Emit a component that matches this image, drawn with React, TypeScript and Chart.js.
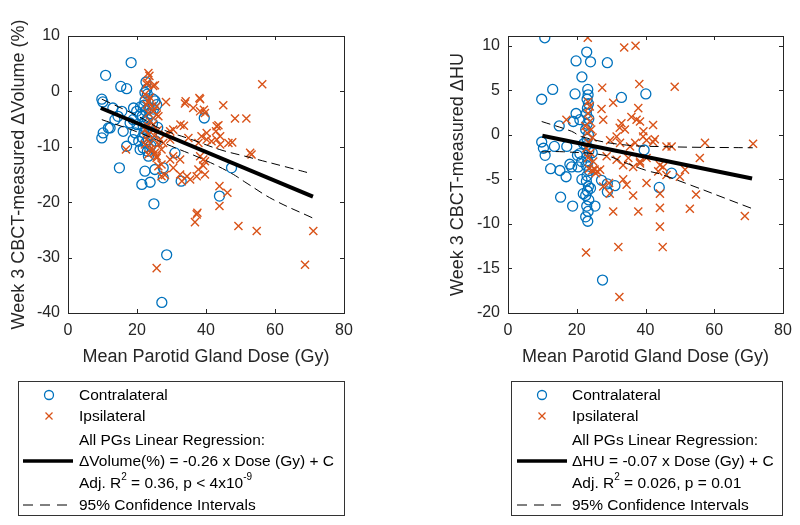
import React, { useEffect, useRef } from "react";
import { Chart, registerables } from "chart.js";

Chart.register(...registerables);

// ---------- tick labels ----------
const X_TICKS = [0, 20, 40, 60, 80];
const VOL_Y_TICKS = [-40, -30, -20, -10, 0, 10];
const HU_Y_TICKS = [-20, -15, -10, -5, 0, 5, 10];

// ---------- left panel: ΔVolume (%) ----------
const VOL_CONTRA_DOSE = [18.3, 10.9, 15.3, 17.0, 9.8, 10.1, 13.0, 15.6, 19.9, 20.9, 18.9, 18.0, 13.6, 11.7, 10.2, 9.8, 16.0, 17.0, 18.9, 20.9, 23.3, 31.0, 14.9, 22.3, 25.2, 27.6, 27.6, 23.8, 21.4, 32.8, 24.9, 28.6, 27.2, 39.5, 47.4, 43.9,
  22.6, 22.8, 23.0, 22.3, 24.7, 25.7, 22.3, 25.2, 22.0, 23.5, 22.5, 24.0, 21.5, 23.0, 22.2, 24.5, 21.8, 23.5, 22.8, 22.0, 24.2, 21.5, 23.2, 22.5, 24.0, 21.8, 23.0, 20.5, 19.5, 25.5, 26.0, 20.0, 24.8, 21.0, 14.5, 12.2, 19.0];
const VOL_CONTRA_DELTA = [5.2, 2.9, 0.9, 0.5, -1.4, -1.9, -3.0, -3.6, -3.6, -4.2, -5.1, -5.7, -5.1, -6.6, -7.5, -8.4, -7.2, -9.9, -8.7, -10.5, -11.7, -11.1, -13.8, -14.4, -14.1, -13.8, -15.6, -16.4, -16.8, -16.2, -20.3, -29.5, -38.1, -4.8, -13.8, -18.9,
  1.7, 0.4, -0.5, -0.2, -1.4, -2.4, -1.7, -1.7, -2.5, -3.0, -3.5, -4.0, -4.5, -5.0, -5.5, -5.8, -6.3, -6.5, -7.0, -7.5, -7.8, -8.3, -8.7, -9.3, -9.8, -10.2, -10.8, -9.0, -7.5, -9.0, -6.5, -6.0, -3.2, -2.8, -4.5, -6.6, -3.0];

const VOL_IPSI_DOSE = [23.3, 23.6, 23.0, 24.7, 22.8, 25.2, 56.3, 28.4, 34.1, 33.9, 38.1, 38.3, 36.3, 38.3, 39.7, 39.4, 45.0, 48.4, 51.7, 32.6, 33.6, 43.1, 30.5, 29.6, 28.1, 26.7, 27.6, 29.6, 34.9, 38.7, 40.2, 37.8, 42.9, 44.1, 43.1, 41.6, 44.1, 46.5, 47.6, 43.6, 40.2, 52.8, 53.2, 16.8, 29.6, 30.5, 32.5, 28.1, 27.1, 32.5, 34.5, 33.0, 35.4, 37.3, 37.8, 39.7, 30.5, 38.3, 39.7, 39.2, 39.2, 43.9, 43.9, 46.2, 37.5, 37.3, 36.8, 49.4, 54.7, 71.1, 68.7, 25.7,
  22.3, 23.8, 23.3, 22.8, 24.3, 25.7, 23.3, 24.7, 25.7, 26.2, 23.8, 23.3, 22.3, 23.3, 22.8, 23.8, 22.3, 23.8, 25.2, 23.3, 25.7, 26.2, 27.1, 24.7, 25.7, 26.2, 27.1, 24.7, 26.0, 25.0];
const VOL_IPSI_DELTA = [3.3, 2.8, 1.6, 1.0, 1.3, 1.1, 1.3, -1.9, -1.8, -2.2, -1.2, -1.4, -3.0, -3.6, -3.9, -3.3, -2.5, -4.9, -4.9, -6.0, -6.2, -6.3, -6.9, -7.2, -7.8, -8.7, -9.3, -8.7, -8.4, -8.1, -8.7, -9.3, -7.2, -8.1, -8.7, -9.0, -9.6, -9.3, -9.2, -6.1, -7.5, -11.1, -11.4, -10.5, -12.3, -13.8, -12.3, -15.1, -13.2, -15.0, -15.3, -16.2, -15.9, -15.3, -14.1, -15.0, -11.7, -11.7, -12.6, -12.3, -13.4, -17.1, -20.7, -18.3, -21.9, -22.2, -23.6, -24.3, -25.2, -25.2, -31.3, -31.9,
  -0.5, -1.1, -1.8, -2.4, -2.7, -2.7, -3.9, -3.6, -4.2, -4.5, -5.4, -6.3, -6.9, -7.8, -8.7, -9.3, -9.6, -10.5, -11.1, -11.4, -12.0, -9.5, -10.5, -10.5, -11.7, -13.5, -15.3, -6.0, -7.0, -8.0];

const VOL_FIT_DOSE = [9.5, 71.0];
const VOL_FIT = [-3.0, -19.0];
const VOL_CI_UP_DOSE = [9.8, 20.4, 26.7, 35.9, 44.0, 51.3, 66.7, 69.7];
const VOL_CI_UP = [-1.4, -4.5, -6.7, -8.7, -10.5, -11.7, -14.2, -14.7];
const VOL_CI_LO_DOSE = [9.8, 20.0, 30.0, 39.7, 47.4, 51.9, 59.4, 71.1];
const VOL_CI_LO = [-5.1, -7.3, -9.9, -12.4, -14.8, -16.6, -19.5, -22.9];

// ---------- right panel: ΔHU ----------
const HU_CONTRA_DOSE = [10.7, 9.8, 13.0, 19.5, 19.8, 22.9, 24.0, 28.9, 21.5, 33.0, 40.1,
  23.2, 23.3, 23.0, 23.4, 23.1, 22.8, 23.5, 23.0, 22.6, 23.4, 23.0, 22.8, 23.5, 22.9, 23.3, 22.7, 23.6, 23.0, 22.8, 23.4, 23.1, 22.6, 23.5, 22.9, 23.3, 22.6, 23.2,
  19.8, 19.0, 14.9, 20.9, 9.8, 10.3, 10.8, 13.5, 17.1, 20.9, 21.4, 20.4, 12.4, 15.1, 16.9, 18.5, 18.0, 15.3, 18.8, 21.9, 25.3, 28.9, 28.9, 31.1, 27.2, 44.0, 39.6, 47.6, 27.5, 20.2, 22.0, 24.5, 24.0, 21.5];
const HU_CONTRA_DELTA = [10.9, 4.0, 5.1, 4.6, 8.3, 9.3, 8.2, 8.1, 6.5, 4.2, 4.6,
  5.1, 4.5, 4.0, 3.5, 3.0, 2.4, 1.8, 1.2, 0.6, 0.0, -0.5, -1.2, -1.8, -2.5, -3.0, -3.4, -4.0, -4.6, -5.2, -5.8, -6.3, -6.8, -7.3, -8.0, -8.6, -9.2, -9.7,
  2.4, 1.5, 1.0, 1.7, -0.8, -1.5, -2.3, -1.3, -1.3, -2.1, -3.0, -3.6, -3.8, -4.0, -4.7, -3.6, -3.3, -7.0, -8.0, -6.6, -8.0, -5.5, -6.4, -5.7, -5.1, -5.9, -1.7, -4.3, -16.3, -2.3, -1.0, -2.0, -6.0, -5.0];

const HU_IPSI_DOSE = [23.2, 33.8, 37.1, 27.4, 38.2, 48.5, 30.6, 23.3, 23.8, 27.2, 37.9, 17.0, 35.9, 37.4, 38.4, 42.2, 33.0, 34.0, 32.5, 27.7,
  23.3, 23.8, 22.5, 24.2, 23.0, 24.6, 23.5, 22.8, 24.0, 23.3, 24.8, 23.5, 24.5, 25.2, 26.0, 26.8, 25.5,
  29.7, 31.6, 32.6, 35.5, 37.0, 39.3, 40.3, 42.2, 46.1, 47.6, 39.4, 42.7,
  28.7, 31.6, 33.5, 36.4, 38.4, 40.3, 43.7, 45.1, 46.1, 33.5, 34.5, 27.7, 29.6, 36.4, 40.3, 44.2, 30.6, 37.9, 44.2, 44.2, 32.1, 45.0, 22.7, 32.4, 50.0, 51.5, 55.8, 57.3, 71.3, 54.7, 52.9, 68.9, 29.4, 44.2, 35.0, 38.4];
const HU_IPSI_DELTA = [10.9, 9.8, 10.0, 5.3, 5.7, 5.4, 3.6, 3.7, 3.2, 2.9, 3.0, 1.7, 2.0, 1.7, 1.5, 1.1, 1.3, 0.6, 0.8, 1.7,
  2.4, 1.5, 1.0, 0.6, 0.2, -0.3, -0.9, -1.5, -2.0, -2.6, -3.0, -3.8, -4.0, -3.9, -4.1, -3.9, -4.3,
  -0.6, -0.2, -0.9, -1.3, -0.9, -0.2, -0.6, -0.8, -1.3, -1.3, 0.4, -0.5,
  -2.4, -2.8, -3.4, -3.6, -3.2, -2.6, -4.1, -3.6, -4.5, -5.0, -5.6, -5.8, -6.6, -6.8, -5.4, -6.6, -8.6, -8.6, -8.2, -10.3, -12.6, -12.6, -13.2, -18.2, -4.7, -3.9, -2.6, -0.9, -1.0, -6.7, -8.3, -9.1, -5.4, -3.4, -2.6, -3.0];

const HU_FIT_DOSE = [10.0, 71.0];
const HU_FIT = [-0.1, -4.9];
const HU_CI_UP_DOSE = [9.8, 18.5, 21.4, 32.6, 46.1, 71.2];
const HU_CI_UP = [1.5, 0.4, -0.2, -1.07, -1.33, -1.45];
const HU_CI_LO_DOSE = [9.8, 16.1, 28.2, 34.5, 40.3, 45.1, 71.2];
const HU_CI_LO = [-1.9, -1.9, -2.3, -3.2, -4.0, -4.5, -8.3];

// ---------- styles ----------
const FONT = '"Liberation Sans", Arial, Helvetica, sans-serif';
const AXIS_COLOR = "#262626";
const BLUE = "#0072BD";
const ORANGE = "#D95319";

const pts = (xs: number[], ys: number[]) => xs.map((x, i) => ({ x, y: ys[i] }));

const boxPlugin = {
  id: "matlabBox",
  afterDraw(chart: any) {
    const { ctx, chartArea: a, scales } = chart;
    const L = Math.round(a.left), R = Math.round(a.right), T = Math.round(a.top), B = Math.round(a.bottom);
    ctx.save();
    ctx.strokeStyle = AXIS_COLOR;
    ctx.lineWidth = 1;
    ctx.strokeRect(L + 0.5, T + 0.5, R - L, B - T);
    const tl = 4;
    ctx.beginPath();
    for (const t of scales.x.ticks) {
      const px = Math.round(scales.x.getPixelForValue(t.value)) + 0.5;
      ctx.moveTo(px, B); ctx.lineTo(px, B - tl);
      ctx.moveTo(px, T); ctx.lineTo(px, T + tl);
    }
    for (const t of scales.y.ticks) {
      const py = Math.round(scales.y.getPixelForValue(t.value)) + 0.5;
      ctx.moveTo(L, py); ctx.lineTo(L + tl, py);
      ctx.moveTo(R, py); ctx.lineTo(R - tl, py);
    }
    ctx.stroke();
    ctx.restore();
  },
};

type PanelProps = {
  left: number;
  width: number;
  height: number;
  yWidth: number;
  padRight: number;
  titlePad: number;
  yMin: number;
  yMax: number;
  yTicks: number[];
  yTitle: string;
  contra: { x: number; y: number }[];
  ipsi: { x: number; y: number }[];
  fit: { x: number; y: number }[];
  ciUp: { x: number; y: number }[];
  ciLo: { x: number; y: number }[];
};

function Panel(p: PanelProps) {
  const ref = useRef<HTMLCanvasElement>(null);
  useEffect(() => {
    if (!ref.current) return;
    const line = (data: any[], width: number, dash: number[]) => ({
      data,
      showLine: true,
      borderColor: "#000",
      borderWidth: width,
      borderDash: dash,
      pointRadius: 0,
      tension: dash.length ? 0.4 : 0,
      fill: false,
    });
    const chart = new Chart(ref.current, {
      type: "scatter",
      data: {
        datasets: [
          line(p.fit, 4, []) as any,
          line(p.ciUp, 1, [9, 5]) as any,
          line(p.ciLo, 1, [9, 5]) as any,
          {
            data: p.ipsi,
            pointStyle: "crossRot",
            pointRadius: 5.7,
            borderColor: ORANGE,
            backgroundColor: ORANGE,
            borderWidth: 1.4,
          },
          {
            data: p.contra,
            pointStyle: "circle",
            pointRadius: 5,
            borderColor: BLUE,
            backgroundColor: "rgba(0,0,0,0)",
            borderWidth: 1.3,
          },
        ],
      },
      options: {
        animation: false,
        responsive: false,
        devicePixelRatio: 1,
        events: [],
        layout: { padding: { top: 36, right: p.padRight, left: 0, bottom: 0 } },
        plugins: { legend: { display: false }, tooltip: { enabled: false } },
        scales: {
          x: {
            type: "linear",
            min: 0,
            max: 80,
            afterBuildTicks: (s: any) => {
              s.ticks = X_TICKS.map((v) => ({ value: v }));
            },
            afterFit: (s: any) => {
              s.height = p.height - 313;
            },
            grid: { display: false, drawTicks: false },
            border: { display: false },
            ticks: { color: AXIS_COLOR, font: { family: FONT, size: 16 }, padding: 8, maxRotation: 0 },
            title: {
              display: true,
              text: "Mean Parotid Gland Dose (Gy)",
              color: AXIS_COLOR,
              font: { family: FONT, size: 18 },
              padding: { top: 0, bottom: 12 },
            },
          },
          y: {
            type: "linear",
            min: p.yMin,
            max: p.yMax,
            afterBuildTicks: (s: any) => {
              s.ticks = p.yTicks.map((v) => ({ value: v }));
            },
            afterFit: (s: any) => {
              s.width = p.yWidth;
            },
            grid: { display: false, drawTicks: false },
            border: { display: false },
            ticks: { color: AXIS_COLOR, font: { family: FONT, size: 16 }, padding: 8 },
            title: {
              display: true,
              text: p.yTitle,
              color: AXIS_COLOR,
              font: { family: FONT, size: 18 },
              padding: { top: p.titlePad, bottom: 0 },
            },
          },
        },
      },
      plugins: [boxPlugin],
    } as any);
    return () => chart.destroy();
  }, []);
  return (
    <canvas
      ref={ref}
      width={p.width}
      height={p.height}
      style={{ position: "absolute", left: p.left, top: 0, width: p.width, height: p.height }}
    />
  );
}

type LegendProps = {
  left: number;
  width: number;
  markerX: number;
  textX: number;
  lineX1: number;
  lineX2: number;
  eq: React.ReactNode;
  stats: React.ReactNode;
};

const ROW_Y = [395, 416, 440, 461, 483, 505];

function Legend(p: LegendProps) {
  const top = 381;
  const txt = (y: number, content: React.ReactNode) => (
    <div
      style={{
        position: "absolute",
        left: p.textX,
        top: y - 9,
        lineHeight: "18px",
        fontSize: "15.5px",
        fontFamily: FONT,
        color: "#000",
        whiteSpace: "nowrap",
      }}
    >
      {content}
    </div>
  );
  return (
    <>
      <div
        style={{
          position: "absolute",
          left: p.left,
          top,
          width: p.width,
          height: 135,
          border: "1px solid #333",
          boxSizing: "border-box",
          background: "#fff",
        }}
      />
      <svg
        width={800}
        height={525}
        style={{ position: "absolute", left: 0, top: 0, pointerEvents: "none" }}
      >
        <circle cx={p.markerX} cy={ROW_Y[0]} r={4.5} fill="none" stroke={BLUE} strokeWidth={1.3} />
        <line x1={p.markerX - 3.5} y1={ROW_Y[1] - 3.5} x2={p.markerX + 3.5} y2={ROW_Y[1] + 3.5} stroke={ORANGE} strokeWidth={1.3} />
        <line x1={p.markerX - 3.5} y1={ROW_Y[1] + 3.5} x2={p.markerX + 3.5} y2={ROW_Y[1] - 3.5} stroke={ORANGE} strokeWidth={1.3} />
        <line x1={p.lineX1} y1={ROW_Y[3]} x2={p.lineX2} y2={ROW_Y[3]} stroke="#000" strokeWidth={3.5} />
        <line x1={p.lineX1} y1={ROW_Y[5]} x2={p.lineX2} y2={ROW_Y[5]} stroke="#000" strokeWidth={1} strokeDasharray="10 7" />
      </svg>
      {txt(ROW_Y[0], "Contralateral")}
      {txt(ROW_Y[1], "Ipsilateral")}
      {txt(ROW_Y[2], "All PGs Linear Regression:")}
      {txt(ROW_Y[3], p.eq)}
      {txt(ROW_Y[4], p.stats)}
      {txt(ROW_Y[5], "95% Confidence Intervals")}
    </>
  );
}

const supStyle: React.CSSProperties = { fontSize: "10px", verticalAlign: "8px", lineHeight: 0 };

export default function App() {
  return (
    <div
      style={{
        position: "fixed",
        left: 0,
        top: 0,
        width: 800,
        height: 525,
        background: "#fff",
        overflow: "hidden",
      }}
    >
      <Panel
        left={0}
        width={400}
        height={380}
        yWidth={68}
        padRight={56}
        titlePad={8}
        yMin={-40}
        yMax={10}
        yTicks={VOL_Y_TICKS}
        yTitle="Week 3 CBCT-measured ΔVolume (%)"
        contra={pts(VOL_CONTRA_DOSE, VOL_CONTRA_DELTA)}
        ipsi={pts(VOL_IPSI_DOSE, VOL_IPSI_DELTA)}
        fit={pts(VOL_FIT_DOSE, VOL_FIT)}
        ciUp={pts(VOL_CI_UP_DOSE, VOL_CI_UP)}
        ciLo={pts(VOL_CI_LO_DOSE, VOL_CI_LO)}
      />
      <Panel
        left={420}
        width={380}
        height={380}
        yWidth={88}
        padRight={17}
        titlePad={27}
        yMin={-20}
        yMax={11.1}
        yTicks={HU_Y_TICKS}
        yTitle="Week 3 CBCT-measured ΔHU"
        contra={pts(HU_CONTRA_DOSE, HU_CONTRA_DELTA)}
        ipsi={pts(HU_IPSI_DOSE, HU_IPSI_DELTA)}
        fit={pts(HU_FIT_DOSE, HU_FIT)}
        ciUp={pts(HU_CI_UP_DOSE, HU_CI_UP)}
        ciLo={pts(HU_CI_LO_DOSE, HU_CI_LO)}
      />
      <Legend
        left={18}
        width={327}
        markerX={49}
        textX={79}
        lineX1={23}
        lineX2={73}
        eq={"ΔVolume(%) = -0.26 x Dose (Gy) + C"}
        stats={
          <span>
            Adj. R<span style={supStyle}>2</span> = 0.36, p &lt; 4x10<span style={supStyle}>-9</span>
          </span>
        }
      />
      <Legend
        left={511}
        width={272}
        markerX={542}
        textX={572}
        lineX1={517}
        lineX2={567}
        eq={"ΔHU = -0.07 x Dose (Gy) + C"}
        stats={
          <span>
            Adj. R<span style={supStyle}>2</span> = 0.026, p = 0.01
          </span>
        }
      />
    </div>
  );
}
